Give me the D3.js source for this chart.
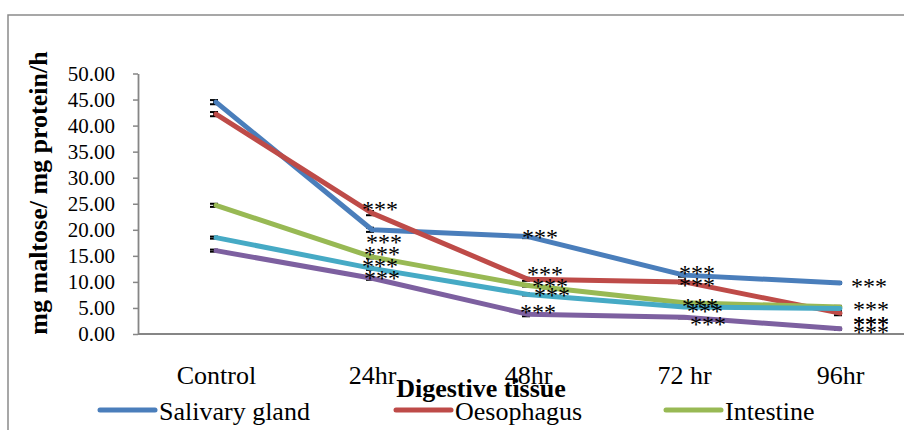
<!DOCTYPE html>
<html>
<head>
<meta charset="utf-8">
<script src="https://cdn.jsdelivr.net/npm/d3@7"></script>
<style>
  html, body { margin: 0; padding: 0; background: #fff; }
  svg { display: block; }
  svg text { font-family: "Liberation Serif", "Times New Roman", serif !important; fill: #000; }
</style>
</head>
<body>
<svg id="chart" width="904" height="430"></svg>
<script>
// ---------- data ----------
const categories = ["Control", "24hr", "48hr", "72 hr", "96hr"];
const salivaryGland = [44.5, 20.0, 18.7, 11.3, 9.8];
const oesophagus    = [42.2, 23.2, 10.5, 10.0, 4.0];
const intestine     = [24.7, 14.8, 9.3, 6.0, 5.2];
const series4       = [18.5, 12.6, 7.6, 5.2, 4.9];
const series5       = [16.0, 10.7, 3.8, 3.2, 1.0];
const errSalivary   = [0.4, 0.4, 0.3, 0.3, 0.2];
const errOesophagus = [0.4, 0.4, 0.3, 0.3, 0.4];
const errIntestine  = [0.3, 0.3, 0.2, 0.2, 0.2];
const errSeries4    = [0.2, 0.3, 0.2, 0.2, 0.2];
const errSeries5    = [0.2, 0.3, 0.4, 0.2, 0.2];
const significance  = ["", "***", "***", "***", "***"];
const yTicks = [0, 5, 10, 15, 20, 25, 30, 35, 40, 45, 50];
const yTitle = "mg maltose/ mg protein/h";
const xTitle = "Digestive tissue";

const series = [
  { name: "Salivary gland", values: salivaryGland, err: errSalivary,   color: "#4A7EBB", legend: true },
  { name: "Oesophagus",     values: oesophagus,    err: errOesophagus, color: "#BE4B48", legend: true },
  { name: "Intestine",      values: intestine,     err: errIntestine,  color: "#98B954", legend: true },
  { name: "",               values: series4,       err: errSeries4,    color: "#46AAC5", legend: false },
  { name: "",               values: series5,       err: errSeries5,    color: "#7D60A0", legend: false }
];

// label nudges (layout only): [dx, dy] per series per category
const labelNudge = [
  [[0,0],[12, 8],[12,-4],[13,-6],[29,-1]],
  [[0,0],[8,-8],[17,-9],[13,-1],[31, 7]],
  [[0,0],[10,-7],[22,-4],[16,-1],[31,-2]],
  [[0,0],[8,-6],[24,-3],[21, 0],[31,12]],
  [[0,0],[10,-4],[10,-6],[24, 3],[31,-1]]
];

// ---------- layout ----------
const svg = d3.select("#chart");
const axisX = 138, plotRight = 918, yBottom = 334, yTop = 73.5;

const x = d3.scalePoint().domain(categories).range([axisX, plotRight]).padding(0.5);
const y = d3.scaleLinear().domain([0, 50]).range([yBottom, yTop]);

// outer frame
svg.append("rect")
  .attr("x", 8).attr("y", 15).attr("width", 1000).attr("height", 1000)
  .attr("fill", "none").attr("stroke", "#8a8a8a").attr("stroke-width", 1.5);

// y axis
const yAxis = d3.axisLeft(y).tickValues(yTicks).tickFormat(d3.format(".2f"))
  .tickSize(5).tickSizeOuter(0).tickPadding(18);
const gy = svg.append("g").attr("transform", `translate(${axisX},0)`).call(yAxis)
  .attr("font-family", "Liberation Serif").attr("font-size", 21);
gy.select(".domain").attr("stroke", "#868686").attr("stroke-width", 1.8);
gy.selectAll(".tick line").attr("stroke", "#868686").attr("stroke-width", 1.5);
gy.selectAll(".tick text").attr("font-size", 21).attr("fill", "#000");

// x axis
const xAxis = d3.axisBottom(x).tickSize(0).tickSizeOuter(0).tickPadding(0);
const gx = svg.append("g").attr("transform", `translate(0,${yBottom})`).call(xAxis)
  .attr("font-family", "Liberation Serif").attr("font-size", 26);
gx.select(".domain").attr("stroke", "#868686").attr("stroke-width", 1.8)
  .attr("d", `M${axisX},0H${plotRight}`);
gx.selectAll(".tick text").attr("font-size", 26).attr("fill", "#000")
  .attr("dy", null).attr("y", 50);

// axis titles
svg.append("text")
  .attr("transform", `translate(47,193) rotate(-90)`)
  .attr("text-anchor", "middle").attr("font-weight", "bold").attr("font-size", 26)
  .text(yTitle);
svg.append("text")
  .attr("x", 481).attr("y", 397)
  .attr("text-anchor", "middle").attr("font-weight", "bold").attr("font-size", 26)
  .text(xTitle);

// error bars
const capW = 8;
series.forEach(s => {
  const g = svg.append("g").attr("stroke", "#000").attr("stroke-width", 2);
  s.values.forEach((v, i) => {
    const cx = x(categories[i]) - 2;
    const y1 = y(v - s.err[i]), y2 = y(v + s.err[i]);
    g.append("line").attr("x1", cx).attr("x2", cx).attr("y1", y1).attr("y2", y2);
    g.append("line").attr("x1", cx - capW/2).attr("x2", cx + capW/2).attr("y1", y1).attr("y2", y1);
    g.append("line").attr("x1", cx - capW/2).attr("x2", cx + capW/2).attr("y1", y2).attr("y2", y2);
  });
});

// lines
const line = d3.line().x((d, i) => x(categories[i])).y(d => y(d));
series.forEach(s => {
  svg.append("path").datum(s.values)
    .attr("d", line)
    .attr("fill", "none").attr("stroke", s.color).attr("stroke-width", 5)
    .attr("stroke-linejoin", "round").attr("stroke-linecap", "round");
});

// significance labels
series.forEach((s, si) => {
  s.values.forEach((v, i) => {
    if (!significance[i]) return;
    const [dx, dy] = labelNudge[si][i];
    svg.append("text")
      .attr("x", x(categories[i]) + dx).attr("y", y(v) + dy + 12)
      .attr("text-anchor", "middle").attr("font-size", 24).attr("fill", "#111")
      .text(significance[i]);
  });
});

// legend
const legendX = [100, 396, 666];
const legendItems = series.filter(s => s.legend);
legendItems.forEach((s, i) => {
  const lx = legendX[i];
  svg.append("line").attr("x1", lx).attr("x2", lx + 55).attr("y1", 410).attr("y2", 410)
    .attr("stroke", s.color).attr("stroke-width", 5).attr("stroke-linecap", "round");
  svg.append("text").attr("x", lx + 59).attr("y", 420).attr("font-size", 26).text(s.name);
});
</script>
</body>
</html>
